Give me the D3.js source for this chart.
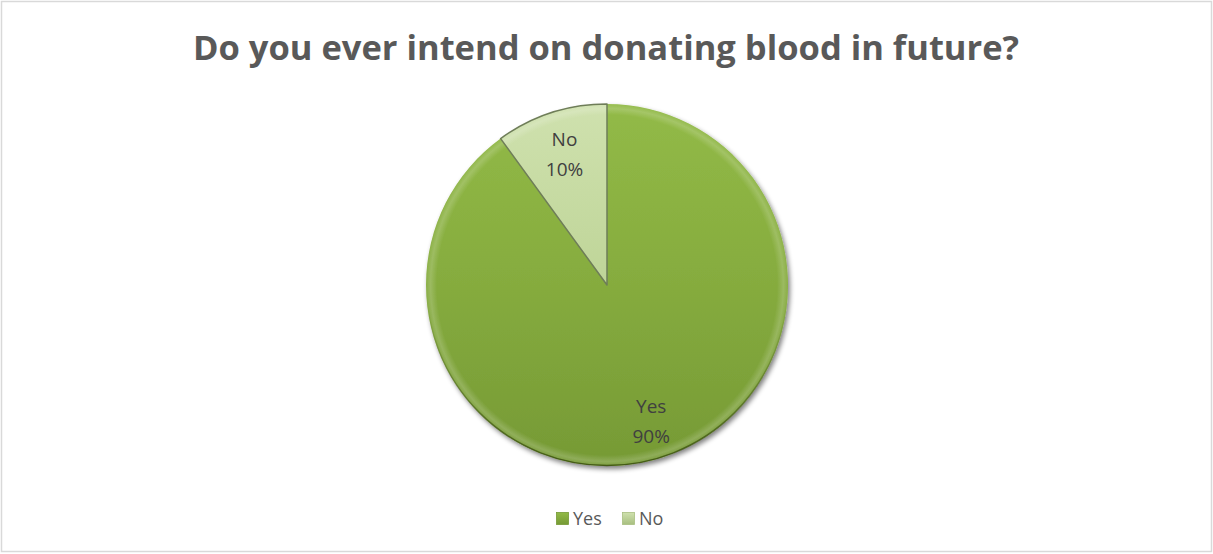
<!DOCTYPE html>
<html>
<head>
<meta charset="utf-8">
<script src="https://cdn.jsdelivr.net/npm/d3@7"></script>
<style>
  html, body { margin: 0; padding: 0; background: #fff; }
  svg { display: block; }
</style>
</head>
<body>
<svg id="chart" width="1213" height="554"></svg>
<script>
// Survey answers
const categories = ["Yes", "No"];
const shares = [90, 10];
const titleText = "Do you ever intend on donating blood in future?";

const baseColors = { Yes: "#87ad3f", No: "#c0d69a" };
const lightColors = { Yes: "#92ba47", No: "#cfe1ae" };
const darkColors = { Yes: "#769a35", No: "#a8bf80" };

const W = 1213, H = 554;
const svg = d3.select("#chart");
const defs = svg.append("defs");

// Chart frame
svg.append("rect")
  .attr("x", 1.5).attr("y", 1.5)
  .attr("width", W - 3).attr("height", H - 4)
  .attr("fill", "#fff")
  .attr("stroke", "#d9d9d9").attr("stroke-width", 1.5);

// Title
svg.append("text")
  .attr("x", 606).attr("y", 60)
  .attr("text-anchor", "middle")
  .attr("font-family", "'Open Sans', sans-serif")
  .attr("font-weight", 700)
  .attr("font-size", 34.5)
  .attr("fill", "#595959")
  .text(titleText);

const cx = 607, cy = 285, R = 181;

// Soft drop shadow under the pie
const shadow = defs.append("filter").attr("id", "pieShadow")
  .attr("x", "-20%").attr("y", "-20%").attr("width", "140%").attr("height", "140%");
shadow.append("feGaussianBlur").attr("in", "SourceAlpha").attr("stdDeviation", 2.5).attr("result", "b");
shadow.append("feOffset").attr("in", "b").attr("dx", 2).attr("dy", 3).attr("result", "o");
shadow.append("feComponentTransfer").attr("in", "o").attr("result", "s")
  .append("feFuncA").attr("type", "linear").attr("slope", 0.5);
const merge = shadow.append("feMerge");
merge.append("feMergeNode").attr("in", "s");
merge.append("feMergeNode").attr("in", "SourceGraphic");

// Vertical shading gradients per slice (pie-local coordinates)
categories.forEach(c => {
  const g = defs.append("linearGradient").attr("id", "grad-" + c)
    .attr("gradientUnits", "userSpaceOnUse")
    .attr("x1", 0).attr("y1", -R).attr("x2", 0).attr("y2", R);
  g.append("stop").attr("offset", "0%").attr("stop-color", lightColors[c]);
  g.append("stop").attr("offset", "45%").attr("stop-color", baseColors[c]);
  g.append("stop").attr("offset", "100%").attr("stop-color", darkColors[c]);
});

// Bevel rim: a light band just inside the edge
const rim = defs.append("radialGradient").attr("id", "rim")
  .attr("gradientUnits", "userSpaceOnUse")
  .attr("cx", 0).attr("cy", 0).attr("r", R);
rim.append("stop").attr("offset", "0.94").attr("stop-color", "#fff").attr("stop-opacity", 0);
rim.append("stop").attr("offset", "0.975").attr("stop-color", "#fff").attr("stop-opacity", 0.18);
rim.append("stop").attr("offset", "1").attr("stop-color", "#fff").attr("stop-opacity", 0.04);

// Darker lower edge
const lowEdge = defs.append("linearGradient").attr("id", "lowEdge")
  .attr("gradientUnits", "userSpaceOnUse")
  .attr("x1", 0).attr("y1", -R).attr("x2", 0).attr("y2", R);
lowEdge.append("stop").attr("offset", "0.55").attr("stop-color", "#3d5212").attr("stop-opacity", 0);
lowEdge.append("stop").attr("offset", "1").attr("stop-color", "#3d5212").attr("stop-opacity", 0.9);

const pie = d3.pie().sort(null).value(d => d.value);
const arcs = pie(categories.map((c, i) => ({ name: c, value: shares[i] })));
const arc = d3.arc().innerRadius(0).outerRadius(R);

const pg = svg.append("g").attr("transform", `translate(${cx},${cy})`);
const pieLayer = pg.append("g").attr("filter", "url(#pieShadow)");

pieLayer.selectAll("path.slice")
  .data(arcs)
  .join("path")
  .attr("class", "slice")
  .attr("d", arc)
  .attr("fill", d => `url(#grad-${d.data.name})`);

pieLayer.selectAll("path.rim")
  .data(arcs)
  .join("path")
  .attr("class", "rim")
  .attr("d", arc)
  .attr("fill", "url(#rim)");

// Outer contour, darkening towards the bottom
pg.append("circle")
  .attr("r", R - 0.5)
  .attr("fill", "none")
  .attr("stroke", "url(#lowEdge)")
  .attr("stroke-width", 1.5);

// Outline of the small slice
pg.selectAll("path.edge")
  .data(arcs.filter(d => d.data.name === "No"))
  .join("path")
  .attr("class", "edge")
  .attr("d", arc)
  .attr("fill", "none")
  .attr("stroke", "#6e7d58")
  .attr("stroke-width", 1.5)
  .attr("stroke-linejoin", "round");

// Data labels
const labelPos = {
  Yes: d3.arc().innerRadius(R * 0.79).outerRadius(R * 0.79),
  No: d3.arc().innerRadius(R * 0.76).outerRadius(R * 0.76)
};
const labels = pg.selectAll("g.lbl")
  .data(arcs)
  .join("g")
  .attr("class", "lbl")
  .attr("transform", d => {
    const [x, y] = labelPos[d.data.name].centroid(d);
    return `translate(${x},${y})`;
  });
labels.append("text")
  .attr("text-anchor", "middle")
  .attr("y", -8)
  .attr("font-family", "'Open Sans', sans-serif")
  .attr("font-size", 19)
  .attr("fill", "#404040")
  .text(d => d.data.name);
labels.append("text")
  .attr("text-anchor", "middle")
  .attr("y", 22)
  .attr("font-family", "'Open Sans', sans-serif")
  .attr("font-size", 19)
  .attr("fill", "#404040")
  .text(d => d.data.value + "%");

// Legend
const legend = svg.append("g").attr("transform", "translate(556,510)");
const legendItems = [{ name: "Yes", x: 0 }, { name: "No", x: 66 }];
legendItems.forEach(it => {
  const lg = defs.append("linearGradient").attr("id", "lg-" + it.name)
    .attr("x1", 0).attr("y1", 0).attr("x2", 0).attr("y2", 1);
  lg.append("stop").attr("offset", "0%").attr("stop-color", lightColors[it.name]);
  lg.append("stop").attr("offset", "100%").attr("stop-color", darkColors[it.name]);
  const g = legend.append("g").attr("transform", `translate(${it.x},0)`);
  g.append("rect").attr("x", 0.5).attr("y", 2.5).attr("width", 12).attr("height", 12)
    .attr("fill", `url(#lg-${it.name})`).attr("stroke", darkColors[it.name]).attr("stroke-width", 0.8);
  g.append("text").attr("x", 17).attr("y", 15)
    .attr("font-family", "'Open Sans', sans-serif")
    .attr("font-size", 18)
    .attr("fill", "#595959")
    .text(it.name);
});
</script>
</body>
</html>
